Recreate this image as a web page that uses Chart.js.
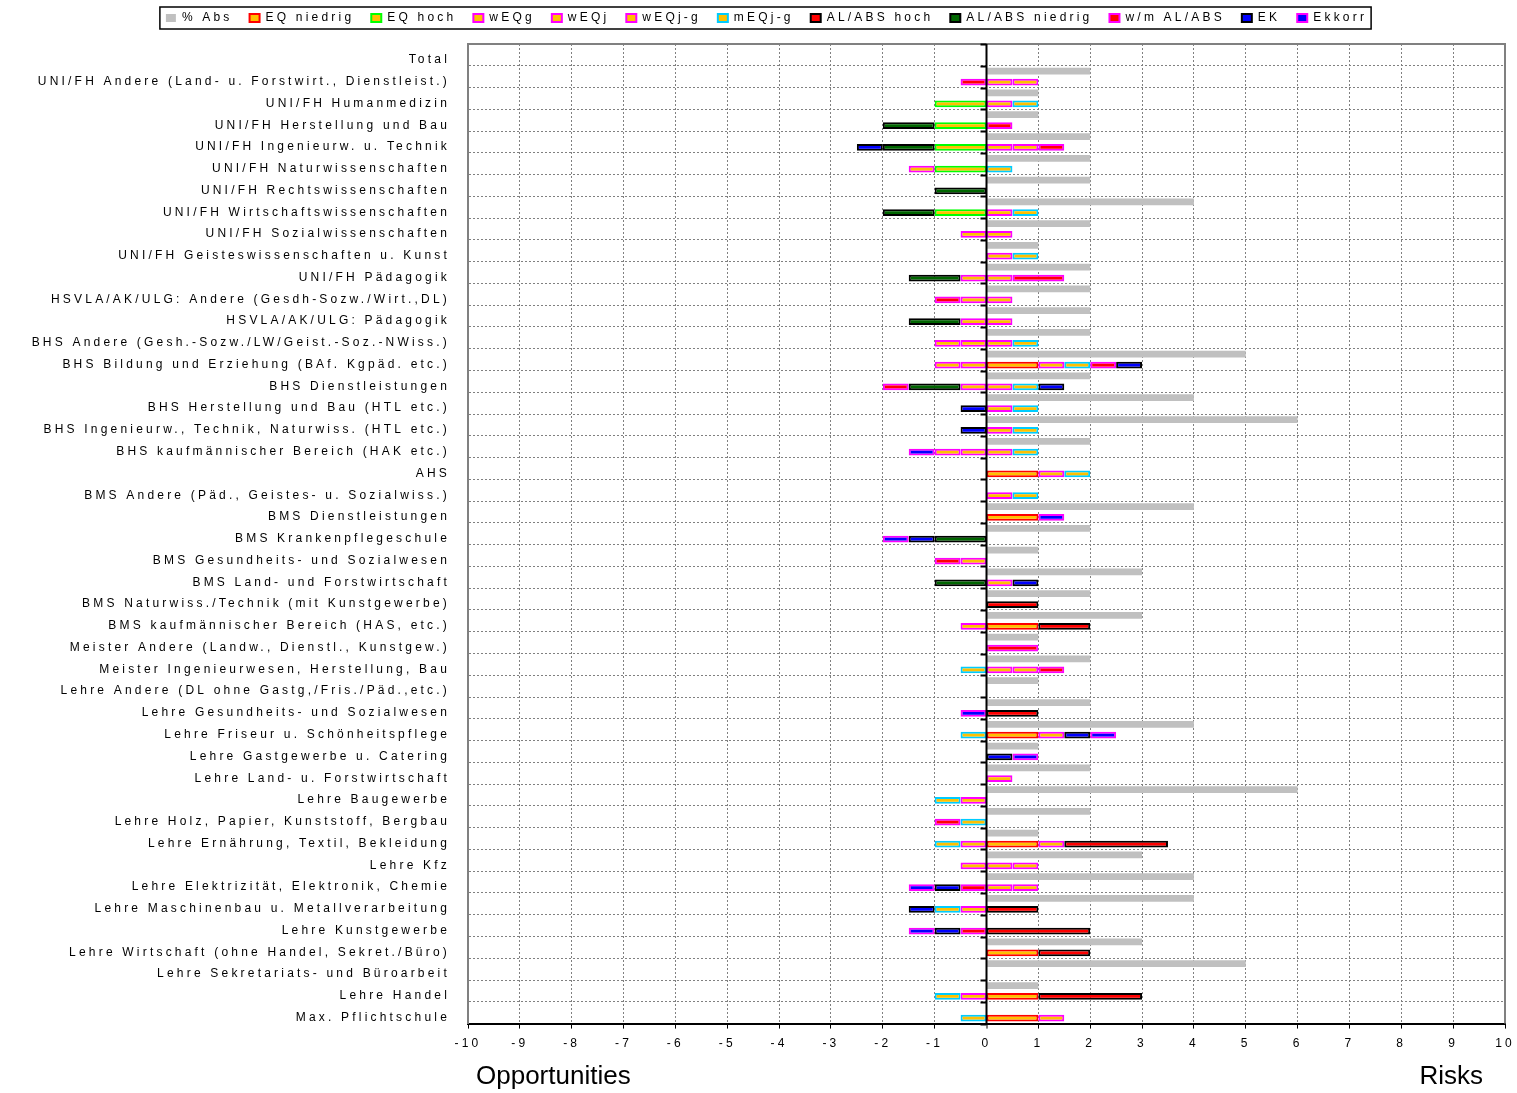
<!DOCTYPE html>
<html>
<head>
<meta charset="utf-8">
<script src="https://cdn.jsdelivr.net/npm/chart.js@4.4.1/dist/chart.umd.min.js"></script>
<style>
  html, body { margin: 0; padding: 0; background: #fff; }
</style>
</head>
<body>
<canvas id="chart" width="1517" height="1093"></canvas>
<script>
const categories = [
  'Total',
  'UNI/FH Andere (Land- u. Forstwirt., Dienstleist.)',
  'UNI/FH Humanmedizin',
  'UNI/FH Herstellung und Bau',
  'UNI/FH Ingenieurw. u. Technik',
  'UNI/FH Naturwissenschaften',
  'UNI/FH Rechtswissenschaften',
  'UNI/FH Wirtschaftswissenschaften',
  'UNI/FH Sozialwissenschaften',
  'UNI/FH Geisteswissenschaften u. Kunst',
  'UNI/FH Pädagogik',
  'HSVLA/AK/ULG: Andere (Gesdh-Sozw./Wirt.,DL)',
  'HSVLA/AK/ULG: Pädagogik',
  'BHS Andere (Gesh.-Sozw./LW/Geist.-Soz.-NWiss.)',
  'BHS Bildung und Erziehung (BAf. Kgpäd. etc.)',
  'BHS Dienstleistungen',
  'BHS Herstellung und Bau (HTL etc.)',
  'BHS Ingenieurw., Technik, Naturwiss. (HTL etc.)',
  'BHS kaufmännischer Bereich (HAK etc.)',
  'AHS',
  'BMS Andere (Päd., Geistes- u. Sozialwiss.)',
  'BMS Dienstleistungen',
  'BMS Krankenpflegeschule',
  'BMS Gesundheits- und Sozialwesen',
  'BMS Land- und Forstwirtschaft',
  'BMS Naturwiss./Technik (mit Kunstgewerbe)',
  'BMS kaufmännischer Bereich (HAS, etc.)',
  'Meister Andere (Landw., Dienstl., Kunstgew.)',
  'Meister Ingenieurwesen, Herstellung, Bau',
  'Lehre Andere (DL ohne Gastg,/Fris./Päd.,etc.)',
  'Lehre Gesundheits- und Sozialwesen',
  'Lehre Friseur u. Schönheitspflege',
  'Lehre Gastgewerbe u. Catering',
  'Lehre Land- u. Forstwirtschaft',
  'Lehre Baugewerbe',
  'Lehre Holz, Papier, Kunststoff, Bergbau',
  'Lehre Ernährung, Textil, Bekleidung',
  'Lehre Kfz',
  'Lehre Elektrizität, Elektronik, Chemie',
  'Lehre Maschinenbau u. Metallverarbeitung',
  'Lehre Kunstgewerbe',
  'Lehre Wirtschaft (ohne Handel, Sekret./Büro)',
  'Lehre Sekretariats- und Büroarbeit',
  'Lehre Handel',
  'Max. Pflichtschule'
];

// one value per category, top to bottom
const absPct = [
  0, 2, 1, 1, 2, 2, 2, 4, 2, 1,
  2, 2, 2, 2, 5, 2, 4, 6, 2, 0,
  0, 4, 2, 1, 3, 2, 3, 1, 2, 1,
  2, 4, 1, 2, 6, 2, 1, 3, 4, 4,
  0, 3, 5, 1, 0
];
const eqNiedrig = [
  0, 0, 0, 0, 0, 0, 0, 0, 0, 0,
  0, 0, 0, 0, 1, 0, 0, 0, 0, 1,
  0, 1, 0, 0, 0, 0, 1, 0, 0, 0,
  0, 1, 0, 0, 0, 0, 1, 0, 0, 0,
  0, 1, 0, 1, 1
];
const eqHoch = [
  0, 0, -1, -1, -1, -1, 0, -1, 0, 0,
  0, 0, 0, 0, 0, 0, 0, 0, 0, 0,
  0, 0, 0, 0, 0, 0, 0, 0, 0, 0,
  0, 0, 0, 0, 0, 0, 0, 0, 0, 0,
  0, 0, 0, 0, 0
];
const wEQg = [
  0, .5, .5, 0, .5, -.5, 0, .5, -.5, .5,
  -.5, -.5, -.5, -.5, -.5, -.5, .5, .5, -.5, .5,
  .5, 0, 0, -.5, .5, 0, -.5, 0, .5, 0,
  0, .5, 0, .5, -.5, 0, -.5, -.5, .5, -.5,
  0, 0, 0, -.5, .5
];
const wEQj = [
  0, .5, 0, 0, .5, 0, 0, 0, .5, 0,
  .5, .5, .5, -.5, -.5, .5, 0, 0, -.5, 0,
  0, 0, 0, 0, 0, 0, 0, 0, .5, 0,
  0, 0, 0, 0, 0, 0, .5, .5, .5, 0,
  0, 0, 0, 0, 0
];
const wEQjg = [
  0, 0, 0, 0, 0, 0, 0, 0, 0, 0,
  0, 0, 0, .5, .5, 0, 0, 0, .5, 0,
  0, 0, 0, 0, 0, 0, 0, 0, 0, 0,
  0, 0, 0, 0, 0, 0, 0, .5, 0, 0,
  0, 0, 0, 0, 0
];
const mEQjg = [
  0, 0, .5, 0, 0, .5, 0, .5, 0, .5,
  0, 0, 0, .5, .5, .5, .5, .5, .5, .5,
  .5, 0, 0, 0, 0, 0, 0, 0, -.5, 0,
  0, -.5, 0, 0, -.5, -.5, -.5, 0, 0, -.5,
  0, 0, 0, -.5, -.5
];
const alHoch = [
  0, 0, 0, 0, 0, 0, 0, 0, 0, 0,
  0, 0, 0, 0, 0, 0, 0, 0, 0, 0,
  0, 0, 0, 0, 0, 1, 1, 0, 0, 0,
  1, 0, 0, 0, 0, 0, 2, 0, 0, 1,
  2, 1, 0, 2, 0
];
const alNiedrig = [
  0, 0, 0, -1, -1, 0, -1, -1, 0, 0,
  -1, 0, -1, 0, 0, -1, 0, 0, 0, 0,
  0, 0, -1, 0, -1, 0, 0, 0, 0, 0,
  0, 0, 0, 0, 0, 0, 0, 0, 0, 0,
  0, 0, 0, 0, 0
];
const wmAlAbs = [
  0, -.5, 0, .5, .5, 0, 0, 0, 0, 0,
  1, -.5, 0, 0, .5, -.5, 0, 0, 0, 0,
  0, 0, 0, -.5, 0, 0, 0, 1, .5, 0,
  0, 0, 0, 0, 0, -.5, 0, 0, -.5, 0,
  -.5, 0, 0, 0, 0
];
const ek = [
  0, 0, 0, 0, -.5, 0, 0, 0, 0, 0,
  0, 0, 0, 0, .5, .5, -.5, -.5, 0, 0,
  0, 0, -.5, 0, .5, 0, 0, 0, 0, 0,
  0, .5, .5, 0, 0, 0, 0, 0, -.5, -.5,
  -.5, 0, 0, 0, 0
];
const ekKorr = [
  0, 0, 0, 0, 0, 0, 0, 0, 0, 0,
  0, 0, 0, 0, 0, 0, 0, 0, -.5, 0,
  0, .5, -.5, 0, 0, 0, 0, 0, 0, 0,
  -.5, .5, .5, 0, 0, 0, 0, 0, -.5, 0,
  -.5, 0, 0, 0, 0
];

const FONT = 'Arial, "Liberation Sans", sans-serif';
const SPACING = '3.2px';
const GOLD = '#FFC000';

const series = [
  { label: 'EQ niedrig', data: eqNiedrig, fill: GOLD, border: '#FF0000' },
  { label: 'EQ hoch', data: eqHoch, fill: GOLD, border: '#00FF00' },
  { label: 'wEQg', data: wEQg, fill: GOLD, border: '#FF00FF' },
  { label: 'wEQj', data: wEQj, fill: GOLD, border: '#FF00FF' },
  { label: 'wEQj-g', data: wEQjg, fill: GOLD, border: '#FF00FF' },
  { label: 'mEQj-g', data: mEQjg, fill: GOLD, border: '#00CCFF' },
  { label: 'AL/ABS hoch', data: alHoch, fill: '#FF0000', border: '#000000' },
  { label: 'AL/ABS niedrig', data: alNiedrig, fill: '#006600', border: '#000000' },
  { label: 'w/m AL/ABS', data: wmAlAbs, fill: '#FF0000', border: '#FF00FF' },
  { label: 'EK', data: ek, fill: '#0000FF', border: '#000000' },
  { label: 'Ekkorr', data: ekKorr, fill: '#0000FF', border: '#FF00FF' }
];

const nz = v => (v === 0 ? null : v);

const datasets = [{
  label: '% Abs',
  data: absPct.map(nz),
  backgroundColor: '#C0C0C0',
  borderWidth: 0,
  stack: 'abs'
}].concat(series.map(s => ({
  label: s.label,
  data: s.data.map(nz),
  backgroundColor: s.fill,
  borderColor: s.border,
  borderWidth: 2,
  borderSkipped: false,
  stack: 'eq'
})));

// canvas letter spacing, reset whenever the canvas state is cleared
const spacingPlugin = {
  id: 'spacing',
  beforeUpdate(chart) { chart.ctx.letterSpacing = SPACING; },
  beforeLayout(chart) {
    chart.ctx.letterSpacing = SPACING;
    const lg = chart.legend;
    if (lg && !lg._tall) {
      const fit = lg.fit;
      lg.fit = function () { fit.call(this); this.height += 10; };
      lg._tall = true;
    }
  },
  beforeDraw(chart) { chart.ctx.letterSpacing = SPACING; }
};

const framePlugin = {
  id: 'frame',
  afterDatasetsDraw(chart) {
    const { ctx, chartArea: a, scales: { x } } = chart;
    ctx.save();
    // plot frame top / right
    ctx.strokeStyle = '#808080';
    ctx.lineWidth = 2;
    ctx.beginPath();
    ctx.moveTo(a.left, a.top);
    ctx.lineTo(a.right, a.top);
    ctx.lineTo(a.right, a.bottom);
    ctx.stroke();
    // zero axis with category ticks
    const x0 = x.getPixelForValue(0);
    ctx.strokeStyle = '#000';
    ctx.beginPath();
    ctx.moveTo(x0, a.top);
    ctx.lineTo(x0, a.bottom);
    ctx.stroke();
    const band = (a.bottom - a.top) / categories.length;
    ctx.beginPath();
    for (let i = 0; i <= categories.length; i++) {
      const yy = Math.round(a.top + i * band) + 0.5;
      ctx.moveTo(x0 - 6, yy);
      ctx.lineTo(x0, yy);
    }
    ctx.stroke();
    ctx.restore();
  },
  afterDraw(chart) {
    const { ctx, chartArea: a, legend } = chart;
    ctx.save();
    // legend frame
    const boxes = legend.legendHitBoxes;
    if (boxes && boxes.length) {
      const l = Math.min(...boxes.map(b => b.left)) - 6;
      const r = Math.max(...boxes.map(b => b.left + b.width)) + 4;
      const t = boxes[0].top - 5;
      const b = boxes[0].top + boxes[0].height + 5;
      ctx.strokeStyle = '#000';
      ctx.lineWidth = 1.5;
      ctx.strokeRect(l, t, r - l, b - t);
    }
    ctx.letterSpacing = '0px';
    ctx.fillStyle = '#000';
    ctx.font = '26px ' + FONT;
    ctx.textBaseline = 'middle';
    ctx.textAlign = 'left';
    ctx.fillText('Opportunities', a.left + 8, 1077);
    ctx.textAlign = 'right';
    ctx.fillText('Risks', a.right - 22, 1077);
    ctx.restore();
  }
};

new Chart(document.getElementById('chart'), {
  type: 'bar',
  data: { labels: categories, datasets },
  plugins: [spacingPlugin, framePlugin],
  options: {
    indexAxis: 'y',
    responsive: false,
    animation: false,
    datasets: { bar: { categoryPercentage: 1, barPercentage: 0.62 } },
    layout: { padding: { top: -5, right: 12, bottom: 34, left: 28 } },
    plugins: {
      legend: {
        position: 'top',
        labels: { boxWidth: 10, boxHeight: 8, padding: 17, color: '#000', font: { size: 12, family: FONT } }
      },
      tooltip: { enabled: false }
    },
    scales: {
      x: {
        type: 'linear',
        stacked: true,
        min: -10,
        max: 10,
        ticks: { stepSize: 1, color: '#000', padding: 8, font: { size: 12, family: FONT } },
        grid: {
          color: '#808080',
          lineWidth: c => (c.tick && c.tick.value === 0 ? 0 : 1),
          tickColor: '#000',
          tickLength: 5,
          tickWidth: 1,
          tickBorderDash: []
        },
        border: { color: '#000', width: 2, dash: [2, 2] },
        afterFit(scale) { scale.paddingLeft = 0; scale.paddingRight = 0; }
      },
      y: {
        type: 'category',
        ticks: { autoSkip: false, color: '#000', padding: 18, labelOffset: 5, font: { size: 12, family: FONT } },
        grid: { color: '#808080', drawTicks: false, offset: true },
        border: { color: '#808080', width: 2, dash: [2, 2] },
        afterFit(scale) { scale.width = 440; }
      }
    }
  }
});
</script>
</body>
</html>
